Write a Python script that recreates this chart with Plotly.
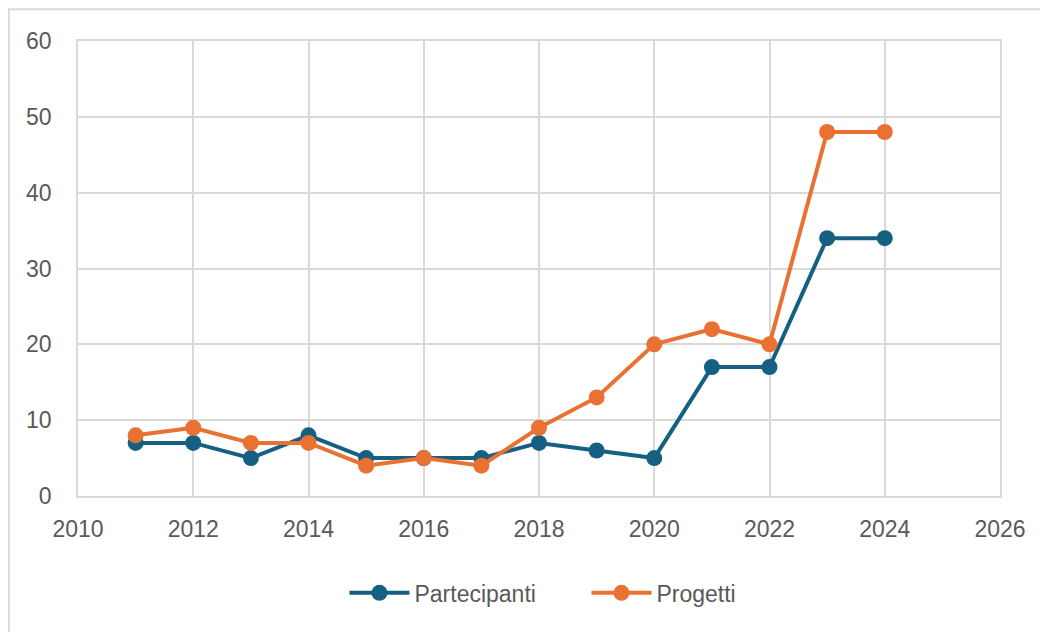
import plotly.graph_objects as go

years = [2011, 2012, 2013, 2014, 2015, 2016, 2017, 2018, 2019, 2020, 2021, 2022, 2023, 2024]
partecipanti = [7, 7, 5, 8, 5, 5, 5, 7, 6, 5, 17, 17, 34, 34]
progetti = [8, 9, 7, 7, 4, 5, 4, 9, 13, 20, 22, 20, 48, 48]

blue = "#156082"
orange = "#E97132"

fig = go.Figure()
fig.add_trace(go.Scatter(x=years, y=partecipanti, name="Partecipanti", mode="lines+markers",
                         line=dict(color=blue, width=4), marker=dict(color=blue, size=16)))
fig.add_trace(go.Scatter(x=years, y=progetti, name="Progetti", mode="lines+markers",
                         line=dict(color=orange, width=4), marker=dict(color=orange, size=16)))

axis_font = dict(family="Liberation Sans, Arial, sans-serif", size=23, color="#595959")
fig.update_xaxes(range=[2010, 2026], dtick=2, tick0=2010, showgrid=True, gridcolor="#d9d9d9",
                 gridwidth=1.5, zeroline=False, showline=True, linecolor="#d9d9d9", linewidth=1.5,
                 mirror=True, tickfont=axis_font, ticks="outside", ticklen=12,
                 tickcolor="rgba(0,0,0,0)")
fig.update_yaxes(range=[0, 60], dtick=10, showgrid=True, gridcolor="#d9d9d9", gridwidth=1.5,
                 zeroline=False, showline=True, linecolor="#d9d9d9", linewidth=1.5, mirror=True,
                 tickfont=axis_font, ticks="outside", ticklen=20, tickcolor="rgba(0,0,0,0)")

# outer chart border
fig.add_shape(type="rect", xref="paper", yref="paper", x0=-0.075, x1=1.2, y0=-0.5, y1=1.07,
              line=dict(color="#d9d9d9", width=2), layer="below")

fig.update_layout(
    width=1040, height=624,
    margin=dict(l=70, r=48, t=33, b=136),
    plot_bgcolor="white", paper_bgcolor="white",
    showlegend=True,
    legend=dict(orientation="h", x=0.289, xanchor="left", y=-0.213, yanchor="middle",
                font=dict(family="Liberation Sans, Arial, sans-serif", size=23, color="#595959"),
                itemwidth=60, entrywidth=167, entrywidthmode="pixels"),
)

fig.write_html("out.html")
